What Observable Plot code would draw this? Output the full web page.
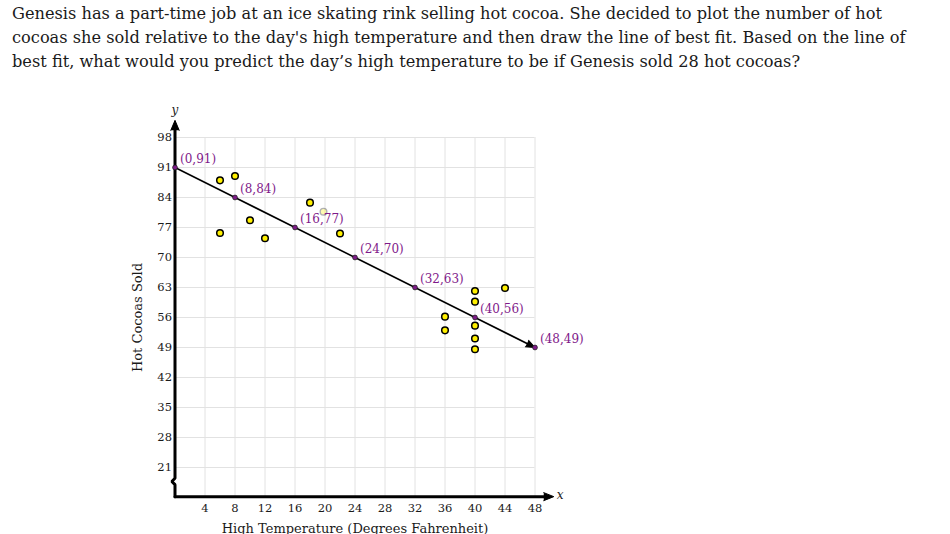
<!DOCTYPE html>
<html>
<head>
<meta charset="utf-8">
<script src="https://cdn.jsdelivr.net/npm/d3@7"></script>
<script src="https://cdn.jsdelivr.net/npm/@observablehq/plot@0.6"></script>
<style>
  html, body { margin: 0; padding: 0; background: #fff; }
  #title { font-family: "DejaVu Serif", serif; font-size: 16.2px; line-height: 24px; color: #1a1a1a;
           padding: 2px 0 0 12px; height: 78px; box-sizing: content-box; white-space: nowrap; }
  #chart svg { display: block; }
</style>
</head>
<body>
<div id="title">Genesis has a part-time job at an ice skating rink selling hot cocoa. She decided to plot the number of hot<br>cocoas she sold relative to the day's high temperature and then draw the line of best fit. Based on the line of<br>best fit, what would you predict the day’s high temperature to be if Genesis sold 28 hot cocoas?</div>
<div id="chart"></div>
<script>
// ---- data ----
const xTicks = [4, 8, 12, 16, 20, 24, 28, 32, 36, 40, 44, 48];
const yTicks = [21, 28, 35, 42, 49, 56, 63, 70, 77, 84, 91, 98];
const scatterX = [6, 8, 10, 6, 12, 18, 22, 40, 40, 44, 36, 36, 40, 40, 40];
const scatterY = [88, 89, 78.7, 75.7, 74.5, 82.8, 75.6, 62.2, 59.7, 62.9, 56.2, 53, 54.1, 51.1, 48.6];
const fadedX = [19.8];
const fadedY = [80.7];
const fitX = [0, 8, 16, 24, 32, 40, 48];
const fitY = [91, 84, 77, 70, 63, 56, 49];
const xLabel = "High Temperature (Degrees Fahrenheit)";
const yLabel = "Hot Cocoas Sold";

// ---- axis geometry (data units) ----
const xDomain = [0, 48], yDomain = [21, 98];
const yBase = 14.2;      // where the broken y axis meets the x axis
const yAxisTop = 102;    // tip of y arrow
const xAxisEnd = 50.5;   // tip of x arrow

const W = 950, H = 454;
const mL = 174.5, mR = W - 534.5, mT = 57, mB = 67;
const pxX = (W - mL - mR) / (xDomain[1] - xDomain[0]);
const pxY = (H - mT - mB) / (yDomain[1] - yDomain[0]);

const scatter = scatterX.map((x, i) => ({x, y: scatterY[i]}));
const faded = fadedX.map((x, i) => ({x, y: fadedY[i]}));
const fit = fitX.map((x, i) => ({x, y: fitY[i], label: `(${x},${fitY[i]})`}));
const last = fit[fit.length - 1], first = fit[0];
const fitAngle = 90 + Math.atan2((first.y - last.y) * pxY, (last.x - first.x) * pxX) * 180 / Math.PI;

const yAxisPath = [
  {x: 0, y: yBase}, {x: 0, y: 17.0}, {x: -0.42, y: 17.75}, {x: 0, y: 18.5}, {x: 0, y: yAxisTop - 1}
];
const xAxisPath = [{x: 0, y: yBase}, {x: xAxisEnd - 1, y: yBase}];

const purple = "#7f1a8a";
const grid = "#e2e2e2";

const chart = Plot.plot({
  width: W, height: H,
  marginLeft: mL, marginRight: mR, marginTop: mT, marginBottom: mB,
  x: {domain: xDomain, axis: null},
  y: {domain: yDomain, axis: null},
  style: {fontFamily: "DejaVu Serif, serif", background: "white", overflow: "visible", color: "#1a1a1a"},
  marks: [
    Plot.ruleX(xTicks, {x: d => d, y1: yBase, y2: yDomain[1], stroke: grid, strokeWidth: 1}),
    Plot.ruleY(yTicks, {y: d => d, x1: xDomain[0], x2: xDomain[1], stroke: grid, strokeWidth: 1}),
    Plot.line(yAxisPath, {x: "x", y: "y", stroke: "black", strokeWidth: 3, strokeLinejoin: "miter"}),
    Plot.line(xAxisPath, {x: "x", y: "y", stroke: "black", strokeWidth: 3}),
    Plot.vector([{x: 0, y: yAxisTop}], {x: "x", y: "y", rotate: 0, length: 10, r: 4.2, shape: "spike", anchor: "end", fill: "black", stroke: "black", strokeWidth: 1}),
    Plot.vector([{x: xAxisEnd, y: yBase}], {x: "x", y: "y", rotate: 90, length: 10, r: 4, shape: "spike", anchor: "end", fill: "black", stroke: "black", strokeWidth: 1}),
    Plot.text(["y"], {x: 0, y: yAxisTop, dy: -10, text: d => d, fontStyle: "italic", fontSize: 12}),
    Plot.text(["x"], {x: xAxisEnd, y: yBase, dx: 3, dy: -1, text: d => d, fontStyle: "italic", fontSize: 12, textAnchor: "start"}),
    Plot.text(yTicks, {x: 0, y: d => d, text: d => String(d), textAnchor: "end", dx: -3, fontSize: 11.5}),
    Plot.text(xTicks, {x: d => d, y: yBase, text: d => String(d), dy: 12, fontSize: 11.5}),
    Plot.text([yLabel], {frameAnchor: "left", text: d => d, rotate: -90, textAnchor: "middle", dx: -37, dy: 15, fontSize: 13}),
    Plot.text([xLabel], {frameAnchor: "bottom", text: d => d, lineAnchor: "top", dy: 56, fontSize: 13}),
    Plot.line(fit, {x: "x", y: "y", stroke: "black", strokeWidth: 1.6}),
    Plot.vector([last], {x: "x", y: "y", rotate: fitAngle, length: 9, r: 3.6, shape: "spike", anchor: "end", fill: "black", stroke: "black", strokeWidth: 1}),
    Plot.dot(faded, {x: "x", y: "y", r: 3.3, fill: "#fff000", stroke: "black", strokeWidth: 1.4, opacity: 0.3}),
    Plot.dot(scatter, {x: "x", y: "y", r: 3.3, fill: "#fff000", stroke: "black", strokeWidth: 1.5}),
    Plot.dot(fit, {x: "x", y: "y", r: 2.4, fill: purple, stroke: "#222", strokeWidth: 0.8}),
    Plot.text(fit, {x: "x", y: "y", text: "label", textAnchor: "start", dx: 5, dy: -8, fontSize: 12, fill: purple})
  ]
});
document.getElementById("chart").appendChild(chart);
</script>
</body>
</html>
